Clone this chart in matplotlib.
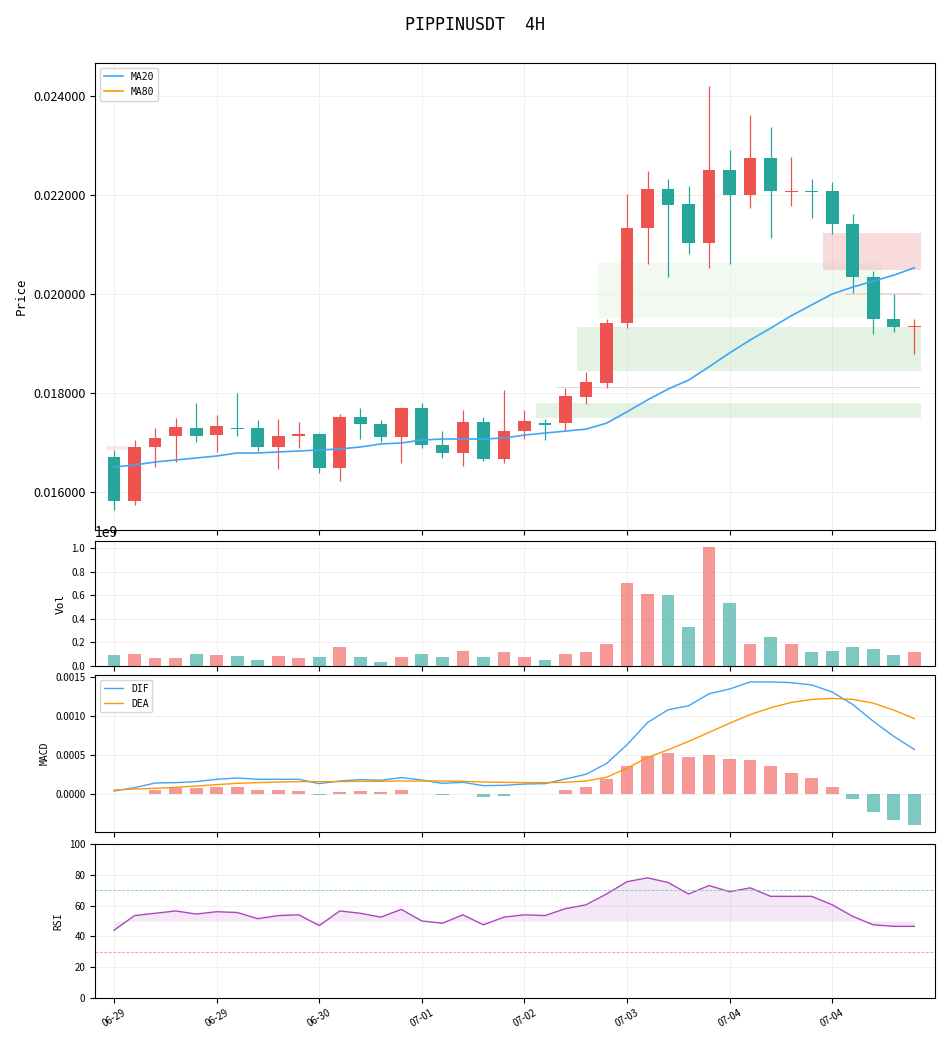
import matplotlib
matplotlib.use("Agg")
import matplotlib.pyplot as plt
import numpy as np

plt.rcParams['font.family'] = ['Noto Sans CJK SC', 'DejaVu Sans']

opens  = [0.0167,0.01582,0.0169,0.01713,0.01729,0.01715,0.0173,0.01729,0.0169,0.01713,0.01717,0.01648,0.01752,0.01737,0.01711,0.0177,0.01695,0.01679,0.01741,0.01667,0.01723,0.01739,0.0174,0.01791,0.0182,0.01941,0.02133,0.02212,0.02182,0.02103,0.0225,0.022,0.02275,0.02207,0.02208,0.02208,0.02141,0.02034,0.01949,0.01933]
closes = [0.01581,0.01691,0.0171,0.01731,0.01713,0.01733,0.01727,0.0169,0.01713,0.01717,0.01648,0.01752,0.01737,0.01711,0.0177,0.01695,0.01679,0.01741,0.01667,0.01724,0.01743,0.01735,0.01793,0.01822,0.01941,0.02133,0.02212,0.0218,0.02103,0.0225,0.022,0.02275,0.02208,0.02208,0.02207,0.02141,0.02034,0.01949,0.01933,0.01935]
highs  = [0.01685,0.01705,0.0173,0.0175,0.0178,0.01756,0.018,0.01745,0.01747,0.01741,0.0172,0.01758,0.0177,0.01745,0.01772,0.0178,0.01723,0.01766,0.01752,0.01806,0.01766,0.01747,0.0181,0.01842,0.01949,0.02202,0.02248,0.02232,0.02218,0.0242,0.0229,0.02362,0.02337,0.02277,0.02232,0.02226,0.02162,0.02046,0.02,0.01949]
lows   = [0.01564,0.01574,0.0165,0.0166,0.01701,0.01681,0.01713,0.01683,0.01646,0.01689,0.01638,0.01622,0.01707,0.01701,0.01659,0.01689,0.01669,0.01652,0.01663,0.01659,0.01707,0.01705,0.01725,0.01778,0.0181,0.01931,0.02061,0.02034,0.0208,0.02053,0.02061,0.02174,0.02113,0.02178,0.02154,0.02121,0.02002,0.01919,0.01923,0.01879]
ma20 = [0.016505,0.016545,0.016606,0.016646,0.016687,0.016727,0.016788,0.016788,0.016808,0.016828,0.016848,0.016869,0.016909,0.01697,0.01699,0.01705,0.01707,0.01707,0.01707,0.01709,0.01715,0.01719,0.01723,0.01727,0.01739,0.01762,0.01786,0.01808,0.01826,0.01853,0.01881,0.01907,0.01931,0.01956,0.01978,0.0200,0.02014,0.02026,0.02038,0.02053]
volume = [0.095,0.105,0.07,0.07,0.105,0.095,0.088,0.055,0.088,0.07,0.08,0.16,0.08,0.03,0.08,0.098,0.08,0.13,0.08,0.115,0.08,0.055,0.098,0.123,0.19,0.705,0.61,0.60,0.335,1.01,0.535,0.183,0.243,0.183,0.123,0.13,0.165,0.148,0.095,0.115]
dif_px = [368,358,344,343,340,333,329,333,333,333,346,338,334,336,328,335,345,342,352,351,347,346,332,318,286,230,164,126,114,78,64,43,43,45,52,73,110,160,205,244]
dea_px = [365,362,360,357,353,349,345,343,341,340,340,340,339,339,338,338,338,339,341,342,343,343,342,338,327,300,268,245,220,193,166,140,120,104,95,92,95,106,127,152]
hist_px = [378,376,366,358,359,356,356,366,366,369,381,372,369,372,366,376,381,378,386,384,378,376,366,357,333,294,264,255,267,261,273,276,294,315,330,357,393,429,453,468]
dif = [round((376-v)/231300, 6) for v in dif_px]
dea = [round((376-v)/231300, 6) for v in dea_px]
hist = [round((376-v)/231300, 6) for v in hist_px]
rsi = [44,53.5,55,56.5,54.5,56,55.5,51.5,53.5,54,47,56.5,55,52.5,57.5,50,48.5,54,47.5,52.5,54,53.5,58,60.5,67.5,75.5,78,75,67.5,73,69,71.5,66,66,66,60.5,53,47.5,46.5,46.5]
tick_idx = [0,5,10,15,20,25,30,35]
tick_labels = ['06-29','06-29','06-30','07-01','07-02','07-03','07-04','07-04']

UP = '#ef5350'; DN = '#26a69a'
MONO = ['DejaVu Sans Mono']
n = len(opens)
x = np.arange(n)
cols = [UP if c >= o else DN for o, c in zip(opens, closes)]

fig = plt.figure(figsize=(9.5, 10.4), dpi=100)
L, W = 0.1, 0.884
ax1 = fig.add_axes([L, 0.4904, W, 0.449])
ax2 = fig.add_axes([L, 0.3596, W, 0.1202])
ax3 = fig.add_axes([L, 0.200, W, 0.151])
ax4 = fig.add_axes([L, 0.0404, W, 0.1481])
xl = (-0.93, 40.0)
def fx(i):
    return (i - xl[0]) / (xl[1] - xl[0])

ax1.axhspan(0.01952, 0.02063, xmin=fx(23.6), xmax=fx(37.45), color='#e8f5e9', alpha=0.6, lw=0)
ax1.axhspan(0.01844, 0.01933, xmin=fx(22.57), xmax=fx(39.35), color='#c8e6c9', alpha=0.5, lw=0)
ax1.axhspan(0.0175, 0.0178, xmin=fx(20.58), xmax=fx(39.35), color='#c8e6c9', alpha=0.5, lw=0)
ax1.axhspan(0.02048, 0.02123, xmin=fx(34.57), xmax=fx(39.35), color='#ef9a9a', alpha=0.35, lw=0)
ax1.axhspan(0.01998, 0.02002, xmin=fx(35.6), xmax=fx(39.35), color='#ef9a9a', alpha=0.35, lw=0)
ax1.axhspan(0.01811, 0.01813, xmin=fx(21.6), xmax=fx(39.35), color='#dddddd', lw=0)
ax1.axhspan(0.01685, 0.01693, xmin=fx(-0.4), xmax=fx(0.7), color='#ef9a9a', alpha=0.2, lw=0)

for i in range(n):
    ax1.vlines(x[i], lows[i], highs[i], color=cols[i], lw=0.9, zorder=2)
    b = min(opens[i], closes[i]); h = abs(closes[i]-opens[i])
    h = max(h, 0.000012)
    ax1.bar(x[i], h, bottom=b, width=0.62, color=cols[i], zorder=3)
ax1.plot(x, ma20, color='#42a5f5', lw=1.2, label='MA20', zorder=4)
ax1.plot([], [], color='#ff9800', lw=1.2, label='MA80')
ax1.legend(loc='upper left', prop={'family': MONO, 'size': 7})
ax1.set_ylim(0.015232, 0.024667)
ax1.set_yticks([0.016,0.018,0.020,0.022,0.024])
ax1.set_yticklabels(['0.016000','0.018000','0.020000','0.022000','0.024000'], fontsize=9)
ax1.set_ylabel('Price', fontsize=9, family=MONO)

ax2.bar(x, [v*1e9 for v in volume], width=0.62, color=cols, alpha=0.6)
ax2.set_ylim(0, 1.06e9)
ax2.set_ylabel('Vol', fontsize=8, family=MONO)

ax3.bar(x, hist, width=0.62, color=[UP if h >= 0 else DN for h in hist], alpha=0.6)
ax3.plot(x, dif, color='#42a5f5', lw=1.0, label='DIF')
ax3.plot(x, dea, color='#ff9800', lw=1.0, label='DEA')
ax3.set_ylim(-0.000493, 0.00153)
ax3.set_yticks([0, 0.0005, 0.001, 0.0015])
ax3.set_yticklabels(['0.0000','0.0005','0.0010','0.0015'])
ax3.legend(loc='upper left', prop={'family': MONO, 'size': 7})
ax3.set_ylabel('MACD', fontsize=7, family=MONO)

ax4.plot(x, rsi, color='#ab47bc', lw=1.0)
ax4.fill_between(x, rsi, 50, color='#ab47bc', alpha=0.12, lw=0)
ax4.axhline(70, color='#80cbc4', ls='--', lw=0.6)
ax4.axhline(30, color='#ef9a9a', ls='--', lw=0.6)
ax4.set_ylim(0, 100)
ax4.set_ylabel('RSI', fontsize=7, family=MONO)

for ax in (ax1, ax2, ax3, ax4):
    ax.set_xlim(*xl)
    ax.set_xticks(tick_idx)
    ax.grid(True, color='#eeeeee', lw=0.6)
    ax.set_axisbelow(True)
    if ax is not ax1:
        ax.tick_params(axis='y', labelsize=7)
for ax in (ax1, ax2, ax3):
    ax.set_xticklabels([])
ax4.set_xticklabels(tick_labels, rotation=30, fontsize=7)

fig.suptitle('PIPPINUSDT  4H', fontsize=12, y=0.985, family=MONO)
fig.savefig('out.png', dpi=100)
